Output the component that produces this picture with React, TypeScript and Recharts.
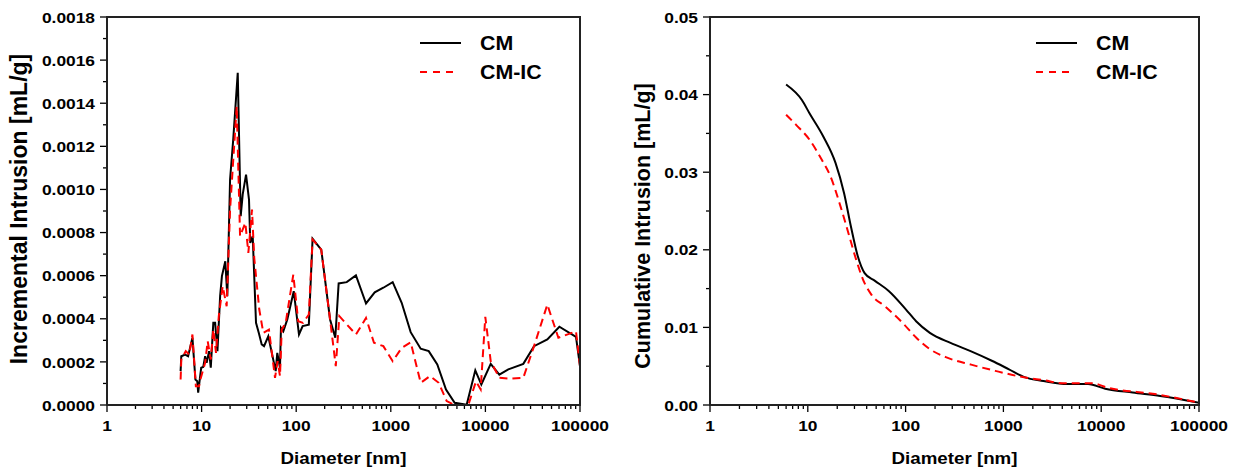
import React from "react";
import { Label, Legend, Line, LineChart, XAxis, YAxis } from "recharts";

const FONT = '"Liberation Sans", Arial, Helvetica, sans-serif';

// --- axis ticks ---
const DIAM_TICKS = [1, 10, 100, 1000, 10000, 100000];
const DIAM_LABELS = ["1", "10", "100", "1000", "10000", "100000"];
const DIAM_MINOR = [2, 3, 4, 5, 6, 7, 8, 9];

const INC_TICKS = [0, 0.0002, 0.0004, 0.0006, 0.0008, 0.001, 0.0012, 0.0014, 0.0016, 0.0018];
const INC_MINOR = [0.0001, 0.0003, 0.0005, 0.0007, 0.0009, 0.0011, 0.0013, 0.0015, 0.0017];
const CUM_TICKS = [0, 0.01, 0.02, 0.03, 0.04, 0.05];
const CUM_MINOR = [0.005, 0.015, 0.025, 0.035, 0.045];

// --- incremental intrusion, CM ---
const cmIncD = [6.0, 6.1, 6.7, 7.2, 8.0, 8.6, 9.0, 9.2, 9.9, 10.4, 10.9, 11.3, 12.0, 12.5, 13.3, 13.9, 14.7, 15.7, 16.4, 17.8, 18.7, 20.0, 21.6, 24.1, 25.9, 27.2, 29.5, 31.7, 32.7, 34.7, 37.6, 40.2, 43.2, 45.7, 50.7, 60.7, 63.1, 67.4, 69.0, 73.1, 80.5, 94.2, 107, 117, 136, 149, 184, 228, 259, 281, 342, 428, 547, 676, 834, 1047, 1303, 1622, 2070, 2518, 3101, 3833, 4732, 6339, 7820, 9057, 11380, 14030, 17460, 25160, 32660, 45150, 60530, 90700, 100000];
const cmIncV = [0.000157, 0.000226, 0.000234, 0.000226, 0.000312, 0.000118, 0.00011, 0.000057, 0.000173, 0.000176, 0.000226, 0.000196, 0.00025, 0.000173, 0.000381, 0.000381, 0.00025, 0.000505, 0.000598, 0.000667, 0.000505, 0.001046, 0.001232, 0.001541, 0.000876, 0.000977, 0.001069, 0.000953, 0.000752, 0.000783, 0.000381, 0.000335, 0.000281, 0.000273, 0.000319, 0.000157, 0.000242, 0.000173, 0.000358, 0.000342, 0.000397, 0.000528, 0.000327, 0.000366, 0.000373, 0.000771, 0.000721, 0.000397, 0.000312, 0.000564, 0.00057, 0.000601, 0.000471, 0.000523, 0.000544, 0.00057, 0.000474, 0.000338, 0.000261, 0.00025, 0.000188, 0.000072, 0.00001, 0.000001, 0.000161, 0.000095, 0.000191, 0.000141, 0.000165, 0.000191, 0.000273, 0.000304, 0.000363, 0.000316, 0.00018];

// --- incremental intrusion, CM-IC ---
const icIncD = [6.0, 6.1, 6.8, 7.4, 8.0, 8.7, 9.4, 9.7, 10.9, 11.6, 12.5, 13.3, 14.2, 15.2, 16.7, 18.4, 20.0, 23.5, 25.5, 29.0, 31.2, 34.1, 36.0, 40.7, 44.9, 51.5, 59.7, 63.6, 67.4, 70.3, 77.4, 93.2, 105, 118, 136, 149, 184, 228, 262, 286, 428, 547, 664, 834, 1047, 1303, 1622, 2070, 2596, 3209, 3899, 4732, 6339, 6596, 7955, 8915, 9977, 11380, 14030, 18200, 25160, 32660, 45150, 59050, 90700, 100000];
const icIncV = [0.000118, 0.000211, 0.00025, 0.000234, 0.000327, 0.000087, 0.000087, 0.000118, 0.000196, 0.000296, 0.000211, 0.00035, 0.000242, 0.000412, 0.000551, 0.000458, 0.000907, 0.001386, 0.000783, 0.000845, 0.000706, 0.000907, 0.000683, 0.000443, 0.000335, 0.00035, 0.000126, 0.000203, 0.000134, 0.00035, 0.000381, 0.000605, 0.000389, 0.000381, 0.00042, 0.000768, 0.000721, 0.000397, 0.00018, 0.000412, 0.000327, 0.000404, 0.000289, 0.000273, 0.000203, 0.000265, 0.000291, 0.000103, 0.000134, 0.000103, 0.000018, 0, 0, 0, 0.00011, 0.000072, 0.000409, 0.000203, 0.000126, 0.000122, 0.000126, 0.000273, 0.000466, 0.000312, 0.000342, 0.00018];

// --- cumulative intrusion ---
const cmCumD = [6.0, 8.7, 10.4, 14.4, 19.2, 23.5, 27.6, 32.4, 38.1, 48.6, 67.2, 101, 128, 177, 288, 468, 761, 1140, 1641, 2560, 4510, 7330, 10990, 20990, 40090, 100000];
const cmCumV = [0.0413, 0.0393, 0.0376, 0.0346, 0.0312, 0.0273, 0.023, 0.0192, 0.017, 0.016, 0.0147, 0.0123, 0.0108, 0.0093, 0.008, 0.0069, 0.0057, 0.0046, 0.0036, 0.0031, 0.0027, 0.0027, 0.0021, 0.0016, 0.00116, 0.0003];
const icCumD = [6.0, 7.6, 10.4, 13.9, 17.0, 21.6, 26.5, 31.1, 36.6, 44.8, 61.9, 92.9, 128, 177, 266, 468, 825, 1575, 2560, 4160, 7940, 11910, 36980, 100000];
const icCumV = [0.0374, 0.0361, 0.0342, 0.0316, 0.0295, 0.0256, 0.0218, 0.0188, 0.0162, 0.0142, 0.0127, 0.0106, 0.0087, 0.0072, 0.0061, 0.0052, 0.0044, 0.0036, 0.0032, 0.0028, 0.0028, 0.0022, 0.00137, 0.0003];

const pts = (d: number[], v: number[]) => d.map((x, i) => ({ d: x, v: v[i] }));

const X_ALL = [
  ...DIAM_TICKS,
  ...DIAM_TICKS.slice(0, -1).flatMap((dec) => DIAM_MINOR.map((k) => dec * k)),
].sort((a, b) => a - b);

function StretchText({ x, y, sx = 1.12, size, anchor, children }: any) {
  return (
    <text
      transform={`translate(${x},${y}) scale(${sx},1)`}
      textAnchor={anchor}
      dominantBaseline="central"
      fontSize={size}
      fontWeight="bold"
      fontFamily={FONT}
      fill="#000"
    >
      {children}
    </text>
  );
}

function XTick(props: any) {
  const { x, y, payload } = props;
  const i = DIAM_TICKS.indexOf(payload.value);
  const major = i >= 0;
  return (
    <g>
      <line x1={x} x2={x} y1={y} y2={y + (major ? 7 : 4)} stroke="#000" strokeWidth={1.3} />
      {major && (
        <StretchText x={x} y={y + 20} size={15.5} anchor="middle">
          {DIAM_LABELS[i]}
        </StretchText>
      )}
    </g>
  );
}

const yTick = (majors: number[], digits: number) =>
  function YTick(props: any) {
    const { x, y, payload } = props;
    const major = majors.some((m) => Math.abs(m - payload.value) < 1e-9);
    return (
      <g>
        <line x1={x - (major ? 7 : 4)} x2={x} y1={y} y2={y} stroke="#000" strokeWidth={1.3} />
        {major && (
          <StretchText x={x - 12} y={y} size={15.5} anchor="end">
            {payload.value.toFixed(digits)}
          </StretchText>
        )}
      </g>
    );
  };

function LegendBox() {
  return (
    <svg width={200} height={70} style={{ display: "block" }}>
      <line x1={2} x2={43} y1={15} y2={15} stroke="#000" strokeWidth={2} />
      <StretchText x={62} y={15} sx={1.09} size={19.6} anchor="start">CM</StretchText>
      <line x1={2} x2={41} y1={44} y2={44} stroke="#ff0000" strokeWidth={2} strokeDasharray="7 6" />
      <StretchText x={62} y={44} sx={1.09} size={19.6} anchor="start">CM-IC</StretchText>
    </svg>
  );
}

function YTitle({ x, y, size, text }: any) {
  return (
    <text
      transform={`translate(${x},${y}) rotate(-90)`}
      textAnchor="middle"
      dominantBaseline="central"
      fontSize={size}
      fontWeight="bold"
      fontFamily={FONT}
      fill="#000"
    >
      {text}
    </text>
  );
}

// plot box border drawn over the chart
function Frame({ left, top, width, height }: any) {
  return (
    <div
      style={{
        position: "absolute",
        left: left - 1,
        top: top - 1,
        width: width + 2,
        height: height + 2,
        border: "2px solid #222",
        boxSizing: "border-box",
        pointerEvents: "none",
        zIndex: 5,
      }}
    />
  );
}

function Panel({ width, yWidth, right, yMax, majors, minors, digits, title, titleX, titleY, titleSize, legendLeft, cm, ic, smooth }: any) {
  const YT = yTick(majors, digits);
  return (
    <LineChart width={width} height={473} margin={{ top: 17, right, bottom: 0, left: 0 }}>
      <XAxis
        dataKey="d"
        type="number"
        scale="log"
        domain={[1, 100000]}
        ticks={X_ALL}
        interval={0}
        tick={<XTick />}
        tickSize={0}
        tickMargin={0}
        axisLine={false}
        height={68}
        allowDataOverflow
      >
        <Label
          content={(p: any) => {
            const vb = p.viewBox;
            return (
              <StretchText x={vb.x + vb.width / 2} y={vb.y + 53} sx={1.15} size={16.3} anchor="middle">
                Diameter [nm]
              </StretchText>
            );
          }}
        />
      </XAxis>
      <YAxis
        dataKey="v"
        type="number"
        domain={[0, yMax]}
        ticks={[...majors, ...minors].sort((a: number, b: number) => a - b)}
        interval={0}
        tick={<YT />}
        tickSize={0}
        tickMargin={0}
        axisLine={false}
        width={yWidth}
        allowDataOverflow
      >
        <Label content={() => <YTitle x={titleX} y={titleY} size={titleSize} text={title} />} />
      </YAxis>
      <Legend
        layout="vertical"
        align="center"
        verticalAlign="middle"
        content={() => <LegendBox />}
        wrapperStyle={{ left: legendLeft, top: 28, width: 200, height: 70 }}
      />
      <Line
        data={pts(cm[0], cm[1])}
        dataKey="v"
        type={smooth ? "monotone" : "linear"}
        stroke="#000"
        strokeWidth={2}
        dot={false}
        isAnimationActive={false}
      />
      <Line
        data={pts(ic[0], ic[1])}
        dataKey="v"
        type={smooth ? "monotone" : "linear"}
        stroke="#ff0000"
        strokeWidth={2}
        strokeDasharray="8 5"
        dot={false}
        isAnimationActive={false}
      />
    </LineChart>
  );
}

export default function App() {
  return (
    <div style={{ position: "absolute", left: 0, top: 0, width: 1239, height: 473, background: "#fff" }}>
      <div style={{ position: "absolute", left: 0, top: 0 }}>
        <Panel
          width={615}
          yWidth={107}
          right={35}
          yMax={0.0018}
          majors={INC_TICKS}
          minors={INC_MINOR}
          digits={4}
          title="Incremental Intrusion [mL/g]"
          titleX={19}
          titleY={209}
          titleSize={23}
          legendLeft={418}
          cm={[cmIncD, cmIncV]}
          ic={[icIncD, icIncV]}
          smooth={false}
        />
      </div>
      <div style={{ position: "absolute", left: 620, top: 0 }}>
        <Panel
          width={619}
          yWidth={90}
          right={40}
          yMax={0.05}
          majors={CUM_TICKS}
          minors={CUM_MINOR}
          digits={2}
          title="Cumulative Intrusion [mL/g]"
          titleX={23}
          titleY={226}
          titleSize={21.5}
          legendLeft={414}
          cm={[cmCumD, cmCumV]}
          ic={[icCumD, icCumV]}
          smooth
        />
      </div>
      <Frame left={107} top={17} width={473} height={388} />
      <Frame left={710} top={17} width={489} height={388} />
    </div>
  );
}
